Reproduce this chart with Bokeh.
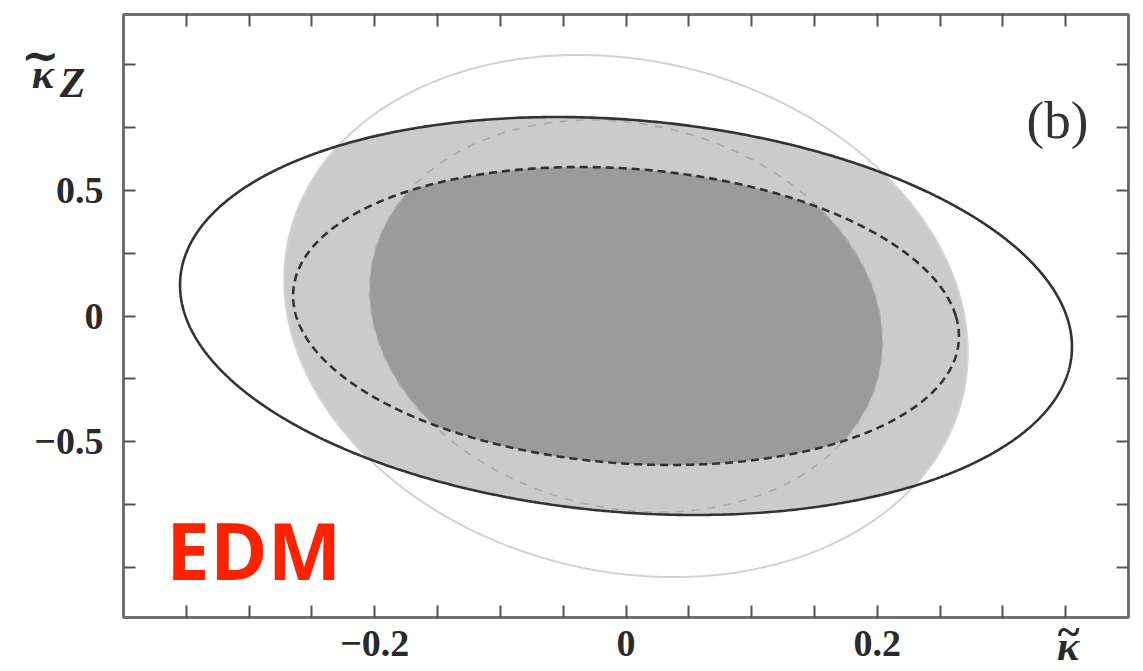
import numpy as np
from bokeh.plotting import figure
from bokeh.models import Range1d, FixedTicker, LinearAxis, Label, CustomJSTickFormatter
from bokeh.embed import file_html
from bokeh.resources import INLINE

# ---- data: contour ellipses ----
# order: solid black, dashed black, thin light gray, dashed light gray
ell_names = ["solid", "dashed", "gray_outer", "gray_inner"]
ell_cx = [0.0, 0.0, 0.0, 0.0]
ell_cy = [0.0, 0.0, 0.0, 0.0]
ell_half_width = [0.355, 0.265, 0.272, 0.204]
ell_half_height = [0.792, 0.593, 1.039, 0.780]
ell_shear = [0.055, 0.036, 0.038, 0.027]

x_major = [-0.2, 0.0, 0.2]
x_minor = [-0.35, -0.3, -0.25, -0.15, -0.1, -0.05, 0.05, 0.1, 0.15, 0.25, 0.3, 0.35]
y_major = [-0.5, 0.0, 0.5]
y_minor = [-1.0, -0.75, -0.25, 0.25, 0.75, 1.0]
x_range = [-0.4, 0.4]
y_range = [-1.2, 1.2]

# axis titles: kappa-tilde (x) and kappa-tilde_Z (y)
NB = "\u00a0"
y_title_pos = [0.963, 0.927]
y_title_txt = ["\u03ba" + NB * 3, "Z"]
y_tilde_pos = 1.04
x_title_pos = 0.352
x_title_kappa = "\u03ba"
tilde = "~"

theta = np.linspace(0, 2 * np.pi, 1441)


def radius(i):
    R = ell_half_width[i]
    ry = ell_half_height[i]
    s = ell_shear[i]
    rx = np.sqrt(R ** 2 - s ** 2)
    c, d = np.cos(theta), np.sin(theta)
    return 1.0 / np.sqrt(((c + s * d / ry) / rx) ** 2 + (d / ry) ** 2)


def curve(r, i=0):
    return ell_cx[i] + r * np.cos(theta), ell_cy[i] + r * np.sin(theta)


r = [radius(i) for i in range(4)]

p = figure(width=1143, height=671, output_backend="svg", toolbar_location=None,
           x_range=Range1d(*x_range), y_range=Range1d(*y_range),
           min_border_left=123, min_border_right=15, min_border_top=14, min_border_bottom=54)
p.background_fill_color = "white"
p.border_fill_color = "white"
p.grid.visible = False
p.outline_line_color = "#6a6a6a"
p.outline_line_width = 2.5

# filled intersection regions
lx, ly = curve(np.minimum(r[0], r[2]))
p.patch(lx, ly, fill_color="#cbcbcb", line_color=None)
dx, dy = curve(np.minimum(r[1], r[3]))
p.patch(dx, dy, fill_color="#9b9b9b", line_color=None)

# outlines
x, y = curve(r[2])
p.line(x, y, line_color="#d2d2d2", line_width=2)
x, y = curve(r[3])
p.line(x, y, line_color="#a9a9a9", line_width=1.6, line_dash="8 8")
x, y = curve(r[0])
p.line(x, y, line_color="#333333", line_width=2.6)
x, y = curve(r[1])
p.line(x, y, line_color="#333333", line_width=2.6, line_dash="8 5")

fmt = CustomJSTickFormatter(code="""
if (Math.abs(tick) < 1e-9) return "0";
var s = Math.abs(tick).toFixed(1);
return (tick < 0 ? "\\u2212" : "") + s;
""")


def style_axis(ax, labels=True):
    ax.axis_line_color = "#6a6a6a"
    ax.axis_line_width = 2.5
    ax.major_tick_in = 12
    ax.major_tick_out = 0
    ax.minor_tick_in = 12
    ax.minor_tick_out = 0
    ax.major_tick_line_color = "#555555"
    ax.minor_tick_line_color = "#555555"
    ax.major_tick_line_width = 2
    ax.minor_tick_line_width = 2
    if labels:
        ax.formatter = fmt
        ax.major_label_text_font = "Liberation Serif"
        ax.major_label_text_font_style = "bold"
        ax.major_label_text_font_size = "38px"
        ax.major_label_text_color = "#2a2a2a"
    else:
        ax.major_label_text_font_size = "0px"
        ax.major_label_standoff = 0


def title_axis(ticks, texts, standoff, size, font="Liberation Serif", style="bold italic"):
    ax = LinearAxis(ticker=FixedTicker(ticks=ticks, minor_ticks=[]))
    ax.formatter = CustomJSTickFormatter(args=dict(pos=ticks, txt=texts), code="""
for (let i = 0; i < pos.length; i++) { if (Math.abs(pos[i] - tick) < 1e-9) return txt[i]; }
return "";
""")
    ax.axis_line_color = None
    ax.major_tick_line_color = None
    ax.minor_tick_line_color = None
    ax.major_tick_in = 0
    ax.major_tick_out = 0
    ax.minor_tick_in = 0
    ax.minor_tick_out = 0
    ax.major_label_standoff = standoff
    ax.major_label_text_font = font
    ax.major_label_text_font_style = style
    ax.major_label_text_font_size = size
    ax.major_label_text_color = "#2a2a2a"
    return ax


p.xaxis.ticker = FixedTicker(ticks=x_major, minor_ticks=x_minor)
p.yaxis.ticker = FixedTicker(ticks=y_major, minor_ticks=y_minor)
style_axis(p.xaxis[0])
style_axis(p.yaxis[0])
p.xaxis.major_label_standoff = 13
p.yaxis.major_label_standoff = 20

top = LinearAxis(ticker=FixedTicker(ticks=x_major, minor_ticks=x_minor))
style_axis(top, labels=False)
p.add_layout(top, "above")
right = LinearAxis(ticker=FixedTicker(ticks=y_major, minor_ticks=y_minor))
style_axis(right, labels=False)
p.add_layout(right, "right")

# title axes, pulled back towards the frame with negative standoffs
p.add_layout(title_axis(y_title_pos, y_title_txt, -54, "42px"), "left")
p.add_layout(title_axis([y_tilde_pos], [tilde], -31, "46px", "DejaVu Serif", "bold"), "left")
p.add_layout(title_axis([x_title_pos], [x_title_kappa], -36, "42px"), "below")
p.add_layout(title_axis([x_title_pos], [tilde], -63, "42px"), "below")

# texts inside the frame
p.add_layout(Label(x=-0.366, y=-0.930, text="EDM", text_font="Open Sans",
                   text_font_style="bold", text_font_size="78px", text_color="#ff2200",
                   text_baseline="alphabetic"))
p.add_layout(Label(x=0.3189, y=0.782, text="(b)", text_font="Liberation Serif",
                   text_font_size="53px", text_color="#333333", text_baseline="alphabetic"))

open("out.html", "w").write(file_html(p, INLINE))
